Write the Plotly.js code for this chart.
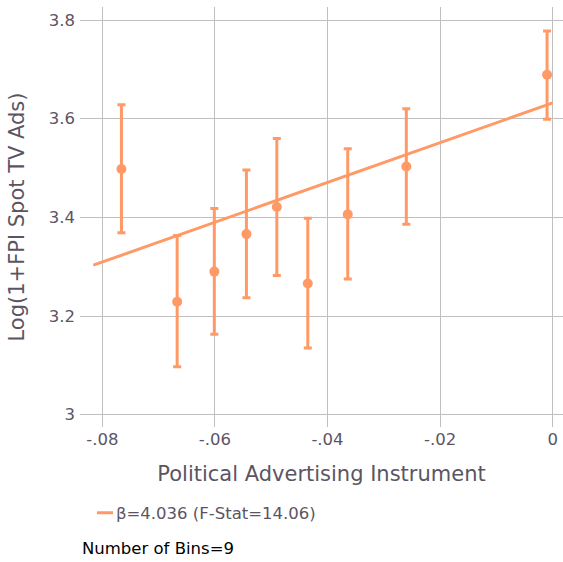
<!DOCTYPE html>
<html>
<head>
<meta charset="utf-8">
<script src="https://cdn.plot.ly/plotly-3.0.1.min.js"></script>
<style>html,body{margin:0;padding:0;background:#fff;}#chart{width:563px;height:562px;}</style>
</head>
<body>
<div id="chart"></div>
<script>
// Binned means (x = instrument bin, y = mean outcome) with 95% CI bounds
const binX = [-0.0766, -0.0667, -0.0601, -0.0544, -0.0490, -0.0435, -0.0364, -0.0260, -0.0010];
const binY = [3.498, 3.229, 3.290, 3.366, 3.421, 3.266, 3.406, 3.503, 3.689];
const ciHigh = [3.628, 3.363, 3.418, 3.496, 3.560, 3.398, 3.539, 3.620, 3.778];
const ciLow  = [3.369, 3.097, 3.163, 3.237, 3.282, 3.135, 3.275, 3.386, 3.599];
// Fitted line endpoints
const fitX = [-0.0816, 0.0];
const fitY = [3.303, 3.632];
const fitLabel = "β=4.036 (F-Stat=14.06)";
const binsNote = "Number of Bins=9";
const xTickVals = [-0.08, -0.06, -0.04, -0.02, 0];
const xTickText = ["-.08", "-.06", "-.04", "-.02", "0"];
const yTickVals = [3, 3.2, 3.4, 3.6, 3.8];
const yTickText = ["3", "3.2", "3.4", "3.6", "3.8"];

const orange = "#ff9966";
const textCol = "#5b5563";
const gridCol = "#c0c0c0";

const errPlus = binY.map((v, i) => ciHigh[i] - v);
const errMinus = binY.map((v, i) => v - ciLow[i]);

const traces = [
  {
    x: binX, y: binY, type: "scatter", mode: "markers",
    marker: {color: orange, size: 10},
    error_y: {type: "data", symmetric: false, array: errPlus, arrayminus: errMinus,
              color: orange, thickness: 3, width: 4},
    showlegend: false, hoverinfo: "x+y"
  },
  {
    x: fitX, y: fitY, type: "scatter", mode: "lines",
    line: {color: orange, width: 3},
    name: fitLabel, showlegend: true
  }
];

const layout = {
  width: 563, height: 562,
  margin: {l: 80, r: 0, t: 7, b: 135},
  paper_bgcolor: "#ffffff", plot_bgcolor: "#ffffff",
  font: {family: "DejaVu Sans", size: 16.5, color: textCol},
  showlegend: true,
  xaxis: {
    range: [-0.08396, 0.00183],
    tickvals: xTickVals, ticktext: xTickText,
    showgrid: true, gridcolor: gridCol, gridwidth: 1,
    zeroline: false, showline: false, ticks: "",
    tickfont: {size: 16.5, color: textCol},
    title: {text: "Political Advertising Instrument", font: {size: 21, color: textCol}, standoff: 18}
  },
  yaxis: {
    range: [2.975, 3.8264],
    tickvals: yTickVals, ticktext: yTickText,
    showgrid: true, gridcolor: gridCol, gridwidth: 1,
    zeroline: false, showline: false, ticks: "",
    tickfont: {size: 16.5, color: textCol},
    ticklabelstandoff: 4,
    title: {text: "Log(1+FPI Spot TV Ads)", font: {size: 21, color: textCol}, standoff: 18}
  },
  legend: {
    orientation: "h", x: -0.0083, xanchor: "left", y: -0.205, yanchor: "middle",
    font: {size: 16.5, color: textCol}, bgcolor: "rgba(0,0,0,0)"
  },
  annotations: [{
    text: binsNote, xref: "paper", yref: "paper", x: 0.001, y: -0.29,
    xanchor: "left", yanchor: "middle", showarrow: false,
    font: {size: 16.5, color: "#000000"}
  }]
};

Plotly.newPlot("chart", traces, layout, {displayModeBar: false, staticPlot: true}).then(function (gd) {
  // shorter legend line sample, as in the reference
  gd.querySelectorAll(".legend .legendlines path").forEach(function (p) {
    p.setAttribute("d", "M21,0h16");
  });
});
</script>
</body>
</html>
